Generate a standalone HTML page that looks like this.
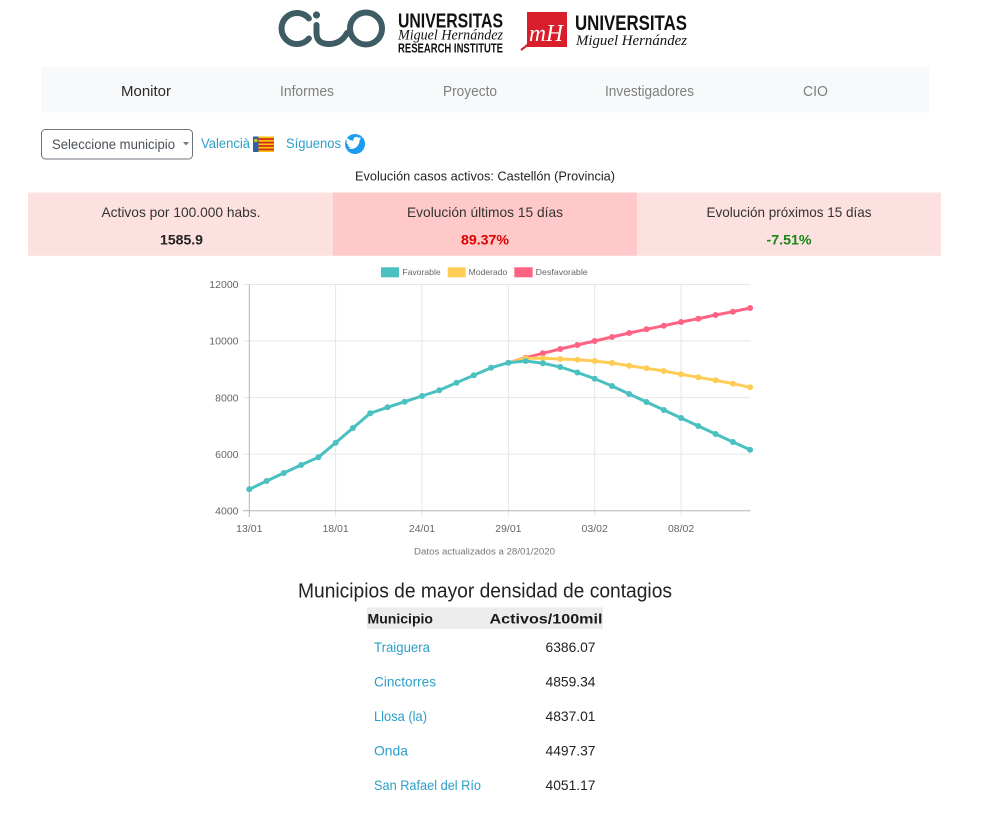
<!DOCTYPE html>
<html>
<head>
<meta charset="utf-8">
<style>
html,body{margin:0;padding:0;background:#fff;}
svg{display:block;}
</style>
</head>
<body>
<svg width="981" height="823" viewBox="0 0 981 823" xmlns="http://www.w3.org/2000/svg" font-family="'Liberation Sans', sans-serif">
<rect x="0" y="0" width="981" height="823" fill="#fff"/>

<!-- ===== Header logos ===== -->
<g fill="none" stroke="#3d5c63" stroke-width="6" stroke-linecap="round">
  <path d="M308.9,18.5 A15.5,15.5 0 1 0 308.9,38.5"/>
  <path d="M316.5,25 L316.5,33 Q316.5,44 329,44 Q341,44 347,33"/>
  <circle cx="366" cy="28.5" r="16"/>
</g>
<circle cx="316.5" cy="15" r="3.6" fill="#3d5c63"/>
<text x="398" y="27.3" font-size="20" font-weight="bold" fill="#111" textLength="105" lengthAdjust="spacingAndGlyphs">UNIVERSITAS</text>
<text x="398" y="39.5" font-size="14.5" font-style="italic" font-family="'Liberation Serif', serif" fill="#111" textLength="105" lengthAdjust="spacingAndGlyphs">Miguel Hernández</text>
<text x="398" y="52.3" font-size="13" font-weight="bold" fill="#111" textLength="105" lengthAdjust="spacingAndGlyphs">RESEARCH INSTITUTE</text>

<rect x="527" y="12" width="40" height="35" fill="#d81e2b"/>
<path d="M521,50 Q530,44 535,35" stroke="#d81e2b" stroke-width="2" fill="none"/>
<text x="529" y="41" font-size="24" font-style="italic" font-family="'Liberation Serif', serif" fill="#fff" textLength="34" lengthAdjust="spacingAndGlyphs">mH</text>
<text x="575" y="30" font-size="21" font-weight="bold" fill="#111" textLength="112" lengthAdjust="spacingAndGlyphs">UNIVERSITAS</text>
<text x="576" y="45" font-size="15" font-style="italic" font-family="'Liberation Serif', serif" fill="#111" textLength="111" lengthAdjust="spacingAndGlyphs">Miguel Hernández</text>

<!-- ===== Nav ===== -->
<rect x="41" y="67" width="888" height="45.5" fill="#f8f9fa"/>
<g font-size="14.5">
  <text x="121" y="96" fill="#2a2a2a" textLength="50" lengthAdjust="spacingAndGlyphs">Monitor</text>
  <text x="280" y="96" fill="#7f8080" textLength="54" lengthAdjust="spacingAndGlyphs">Informes</text>
  <text x="443" y="96" fill="#7f8080" textLength="54" lengthAdjust="spacingAndGlyphs">Proyecto</text>
  <text x="605" y="96" fill="#7f8080" textLength="89" lengthAdjust="spacingAndGlyphs">Investigadores</text>
  <text x="803" y="96" fill="#7f8080" textLength="25" lengthAdjust="spacingAndGlyphs">CIO</text>
</g>

<!-- ===== Selector row ===== -->
<rect x="41.5" y="129.5" width="151" height="29.5" rx="4" ry="4" fill="#fff" stroke="#6c757d" stroke-width="1"/>
<text x="52" y="149" font-size="14" fill="#495057" textLength="123" lengthAdjust="spacingAndGlyphs">Seleccione municipio</text>
<path d="M183,142 L189,142 L186,145.5 Z" fill="#777"/>
<text x="201" y="148" font-size="14" fill="#2b9fc7" textLength="49" lengthAdjust="spacingAndGlyphs">Valencià</text>
<!-- flag -->
<rect x="253" y="136.5" width="21" height="15.5" fill="#f7c600"/>
<g fill="#d52b1e">
  <rect x="258" y="138.2" width="16" height="1.75"/>
  <rect x="258" y="141.7" width="16" height="1.75"/>
  <rect x="258" y="145.1" width="16" height="1.75"/>
  <rect x="258" y="148.6" width="16" height="1.75"/>
</g>
<rect x="253" y="136.5" width="5.5" height="15.5" fill="#2f5fa8"/>
<rect x="254.3" y="139" width="3" height="3" fill="#e9c400"/>
<text x="286" y="148" font-size="14" fill="#2b9fc7" textLength="55" lengthAdjust="spacingAndGlyphs">Síguenos</text>
<circle cx="355" cy="144" r="10" fill="#1d9bf0"/>
<path d="M348.5,148.5 c3,1.2 7,0.3 9,-2.6 c1.6,-2.1 2.2,-4.2 2.2,-6 l1.8,-1.6 -2,0.5 1.2,-1.8 -2.1,0.8 c-1.2,-1.3 -3.3,-1.3 -4.4,0 c-0.8,0.9 -1,2 -0.7,3 c-2.8,-0.1 -5.1,-1.3 -6.8,-3.3 c-0.9,1.7 -0.4,3.6 1,4.6 l-1.4,-0.3 c0,1.6 1.2,3 2.7,3.3 l-1.3,0.1 c0.4,1.3 1.7,2.2 3.1,2.3 c-1.3,1 -2.9,1.3 -4.3,1 z" fill="#fff"/>

<!-- ===== Title ===== -->
<text x="485" y="180.5" font-size="13" fill="#222" text-anchor="middle" textLength="260" lengthAdjust="spacingAndGlyphs">Evolución casos activos: Castellón (Provincia)</text>

<!-- ===== Stats ===== -->
<rect x="28" y="192.5" width="305" height="63.3" fill="#fde0e0"/>
<rect x="333" y="192.5" width="304" height="63.3" fill="#ffc9c9"/>
<rect x="637" y="192.5" width="304" height="63.3" fill="#fde0e0"/>
<g font-size="14" fill="#333" text-anchor="middle">
  <text x="181" y="217" textLength="159" lengthAdjust="spacingAndGlyphs">Activos por 100.000 habs.</text>
  <text x="485" y="217" textLength="156" lengthAdjust="spacingAndGlyphs">Evolución últimos 15 días</text>
  <text x="789" y="217" textLength="165" lengthAdjust="spacingAndGlyphs">Evolución próximos 15 días</text>
</g>
<g font-size="13.5" font-weight="bold" text-anchor="middle">
  <text x="181.5" y="244.5" fill="#222" textLength="43" lengthAdjust="spacingAndGlyphs">1585.9</text>
  <text x="485" y="244.5" fill="#dd0000" textLength="48" lengthAdjust="spacingAndGlyphs">89.37%</text>
  <text x="789" y="244.5" fill="#138a13" textLength="45" lengthAdjust="spacingAndGlyphs">-7.51%</text>
</g>

<!-- ===== Chart legend ===== -->
<rect x="381" y="267.3" width="18" height="10" fill="#4bc0c0"/>
<text x="402.3" y="275" font-size="8.3" fill="#666" textLength="38.4" lengthAdjust="spacingAndGlyphs">Favorable</text>
<rect x="447.7" y="267.3" width="18" height="10" fill="#ffcd56"/>
<text x="468.7" y="275" font-size="8.3" fill="#666" textLength="38.6" lengthAdjust="spacingAndGlyphs">Moderado</text>
<rect x="514.3" y="267.3" width="18.4" height="10" fill="#ff6384"/>
<text x="535.7" y="275" font-size="8.3" fill="#666" textLength="52" lengthAdjust="spacingAndGlyphs">Desfavorable</text>

<!-- ===== Chart grid ===== -->
<g stroke="#e6e6e6" stroke-width="1">
  <line x1="243" y1="284.5" x2="750.5" y2="284.5"/>
  <line x1="243" y1="341" x2="750.5" y2="341"/>
  <line x1="243" y1="397.6" x2="750.5" y2="397.6"/>
  <line x1="243" y1="454.1" x2="750.5" y2="454.1"/>
  <line x1="335.6" y1="284.5" x2="335.6" y2="517"/>
  <line x1="422" y1="284.5" x2="422" y2="517"/>
  <line x1="508.4" y1="284.5" x2="508.4" y2="517"/>
  <line x1="594.7" y1="284.5" x2="594.7" y2="517"/>
  <line x1="681.1" y1="284.5" x2="681.1" y2="517"/>
</g>
<g stroke="#b5b5b5" stroke-width="1">
  <line x1="249.3" y1="284.5" x2="249.3" y2="517"/>
  <line x1="243" y1="510.7" x2="750.5" y2="510.7"/>
</g>
<g font-size="10.5" fill="#666" text-anchor="end">
  <text x="238.5" y="288.2">12000</text>
  <text x="238.5" y="344.7">10000</text>
  <text x="238.5" y="401.3">8000</text>
  <text x="238.5" y="457.8">6000</text>
  <text x="238.5" y="514.4">4000</text>
</g>
<g font-size="10.5" fill="#666" text-anchor="middle">
  <text x="249.3" y="532">13/01</text>
  <text x="335.6" y="532">18/01</text>
  <text x="422" y="532">24/01</text>
  <text x="508.4" y="532">29/01</text>
  <text x="594.7" y="532">03/02</text>
  <text x="681.1" y="532">08/02</text>
</g>

<!-- ===== Series ===== -->
<!-- Desfavorable -->
<polyline fill="none" stroke="#ff6384" stroke-width="3" stroke-linejoin="round" points="508.4,362.7 525.6,357.7 542.9,353.3 560.2,349 577.4,345 594.7,341 612,337 629.2,333 646.5,329.3 663.8,325.7 681.1,322 698.3,318.7 715.6,315 732.9,311.7 750.1,308"/>
<g fill="#ff6384">
  <circle cx="525.6" cy="357.7" r="3"/><circle cx="542.9" cy="353.3" r="3"/><circle cx="560.2" cy="349" r="3"/><circle cx="577.4" cy="345" r="3"/><circle cx="594.7" cy="341" r="3"/><circle cx="612" cy="337" r="3"/><circle cx="629.2" cy="333" r="3"/><circle cx="646.5" cy="329.3" r="3"/><circle cx="663.8" cy="325.7" r="3"/><circle cx="681.1" cy="322" r="3"/><circle cx="698.3" cy="318.7" r="3"/><circle cx="715.6" cy="315" r="3"/><circle cx="732.9" cy="311.7" r="3"/><circle cx="750.1" cy="308" r="3"/>
</g>
<!-- Moderado -->
<polyline fill="none" stroke="#ffcd56" stroke-width="3" stroke-linejoin="round" points="508.4,362.7 525.6,358.3 542.9,358.3 560.2,359 577.4,359.7 594.7,361 612,363 629.2,365.7 646.5,368.3 663.8,371 681.1,374.3 698.3,377.3 715.6,380.3 732.9,383.7 750.1,387.3"/>
<g fill="#ffcd56">
  <circle cx="525.6" cy="358.3" r="3"/><circle cx="542.9" cy="358.3" r="3"/><circle cx="560.2" cy="359" r="3"/><circle cx="577.4" cy="359.7" r="3"/><circle cx="594.7" cy="361" r="3"/><circle cx="612" cy="363" r="3"/><circle cx="629.2" cy="365.7" r="3"/><circle cx="646.5" cy="368.3" r="3"/><circle cx="663.8" cy="371" r="3"/><circle cx="681.1" cy="374.3" r="3"/><circle cx="698.3" cy="377.3" r="3"/><circle cx="715.6" cy="380.3" r="3"/><circle cx="732.9" cy="383.7" r="3"/><circle cx="750.1" cy="387.3" r="3"/>
</g>
<!-- Favorable -->
<polyline fill="none" stroke="#4bc0c0" stroke-width="3" stroke-linejoin="round" points="249.3,489.3 266.6,481 283.8,473 301.1,465 318.4,457.3 335.7,442.7 352.9,428 370.2,413.3 387.5,407.3 404.7,401.7 422,396 439.3,390.3 456.5,382.7 473.8,375.3 491.1,367.7 508.4,362.7 525.6,361 542.9,363.2 560.2,367 577.4,372.5 594.7,378.7 612,386 629.2,394 646.5,402 663.8,410 681.1,418 698.3,426 715.6,434 732.9,442 750.1,449.7"/>
<g fill="#4bc0c0">
  <circle cx="249.3" cy="489.3" r="3"/><circle cx="266.6" cy="481" r="3"/><circle cx="283.8" cy="473" r="3"/><circle cx="301.1" cy="465" r="3"/><circle cx="318.4" cy="457.3" r="3"/><circle cx="335.7" cy="442.7" r="3"/><circle cx="352.9" cy="428" r="3"/><circle cx="370.2" cy="413.3" r="3"/><circle cx="387.5" cy="407.3" r="3"/><circle cx="404.7" cy="401.7" r="3"/><circle cx="422" cy="396" r="3"/><circle cx="439.3" cy="390.3" r="3"/><circle cx="456.5" cy="382.7" r="3"/><circle cx="473.8" cy="375.3" r="3"/><circle cx="491.1" cy="367.7" r="3"/><circle cx="508.4" cy="362.7" r="3"/><circle cx="525.6" cy="361" r="3"/><circle cx="542.9" cy="363.2" r="3"/><circle cx="560.2" cy="367" r="3"/><circle cx="577.4" cy="372.5" r="3"/><circle cx="594.7" cy="378.7" r="3"/><circle cx="612" cy="386" r="3"/><circle cx="629.2" cy="394" r="3"/><circle cx="646.5" cy="402" r="3"/><circle cx="663.8" cy="410" r="3"/><circle cx="681.1" cy="418" r="3"/><circle cx="698.3" cy="426" r="3"/><circle cx="715.6" cy="434" r="3"/><circle cx="732.9" cy="442" r="3"/><circle cx="750.1" cy="449.7" r="3"/>
</g>

<text x="484.5" y="554.5" font-size="9" fill="#777" text-anchor="middle" textLength="141" lengthAdjust="spacingAndGlyphs">Datos actualizados a 28/01/2020</text>

<!-- ===== Table ===== -->
<text x="485" y="597.5" font-size="20" fill="#222" text-anchor="middle" textLength="374" lengthAdjust="spacingAndGlyphs">Municipios de mayor densidad de contagios</text>
<rect x="367" y="607.3" width="236" height="21.7" fill="#ececec"/>
<g font-size="14" font-weight="bold" fill="#1a1a1a">
  <text x="367.5" y="623.5" textLength="65.5" lengthAdjust="spacingAndGlyphs">Municipio</text>
  <text x="489.5" y="623.5" textLength="113" lengthAdjust="spacingAndGlyphs">Activos/100mil</text>
</g>
<g font-size="14" fill="#2b9fc7">
  <text x="374" y="652" textLength="56" lengthAdjust="spacingAndGlyphs">Traiguera</text>
  <text x="374" y="686.7" textLength="62" lengthAdjust="spacingAndGlyphs">Cinctorres</text>
  <text x="374" y="721" textLength="53" lengthAdjust="spacingAndGlyphs">Llosa (la)</text>
  <text x="374" y="755.7" textLength="34" lengthAdjust="spacingAndGlyphs">Onda</text>
  <text x="374" y="790" textLength="107" lengthAdjust="spacingAndGlyphs">San Rafael del Río</text>
</g>
<g font-size="14" fill="#222" text-anchor="end">
  <text x="595.5" y="652" textLength="50" lengthAdjust="spacingAndGlyphs">6386.07</text>
  <text x="595.5" y="686.7" textLength="50" lengthAdjust="spacingAndGlyphs">4859.34</text>
  <text x="595.5" y="721" textLength="50" lengthAdjust="spacingAndGlyphs">4837.01</text>
  <text x="595.5" y="755.7" textLength="50" lengthAdjust="spacingAndGlyphs">4497.37</text>
  <text x="595.5" y="790" textLength="50" lengthAdjust="spacingAndGlyphs">4051.17</text>
</g>
</svg>
</body>
</html>
